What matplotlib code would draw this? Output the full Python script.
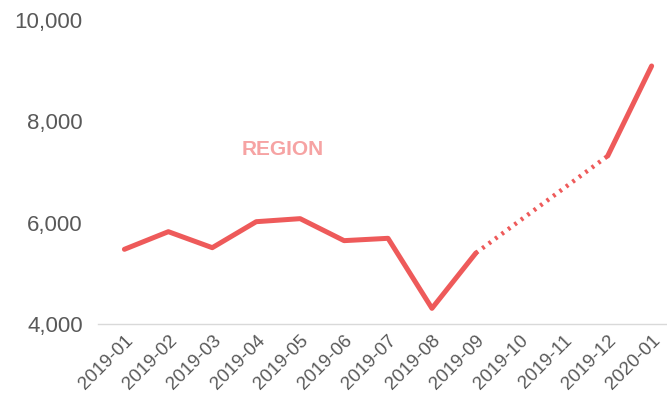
import numpy as np
import matplotlib.pyplot as plt

plt.rcParams['font.family'] = ['Liberation Sans Narrow', 'Liberation Sans', 'DejaVu Sans']

months = ['2019-01', '2019-02', '2019-03', '2019-04', '2019-05', '2019-06', '2019-07',
          '2019-08', '2019-09', '2019-10', '2019-11', '2019-12', '2020-01']
values = [5474, 5822, 5506, 6019, 6079, 5645, 5691, 4309, 5401, None, None, 7316, 9092]
yticks = [4000, 6000, 8000, 10000]

red = '#EE5A5A'

fig = plt.figure(figsize=(6.67, 4.12), dpi=100)
ax = fig.add_axes([0.147, 0.2136, 0.853, 0.7379])

x = np.arange(len(months))
y = np.array([np.nan if v is None else v for v in values], dtype=float)

# solid where data exists
ax.plot(x, y, color=red, lw=3.6, solid_capstyle='round', solid_joinstyle='round')

# dotted bridge over missing months
ok = ~np.isnan(y)
idx = np.where(ok)[0]
for a, b in zip(idx[:-1], idx[1:]):
    if b - a > 1:
        ax.plot([x[a], x[b]], [y[a], y[b]], color=red, lw=3.2, linestyle=(0, (0.6, 1.2)),
                dash_capstyle='butt')

ax.text(0.325, 0.575, 'REGION', transform=ax.transAxes, color='#F6A3A3',
        fontsize=15, fontweight='bold', ha='center', va='center')

ax.set_xlim(-0.6, 12.35)
ax.set_ylim(4000, 10000)
ax.set_yticks(yticks)
ax.set_yticklabels(['{:,}'.format(t) for t in yticks])
ax.set_xticks(x)
ax.set_xticklabels(months, rotation=45, ha='right', rotation_mode='anchor')

for s in ['top', 'right', 'left']:
    ax.spines[s].set_visible(False)
ax.spines['bottom'].set_color('#D9D9D9')
ax.spines['bottom'].set_linewidth(1)
ax.tick_params(axis='both', length=0, colors='#595959')
ax.tick_params(axis='y', labelsize=16, pad=11)
ax.tick_params(axis='x', labelsize=13.5, pad=6)

fig.savefig('out.png', dpi=100)
